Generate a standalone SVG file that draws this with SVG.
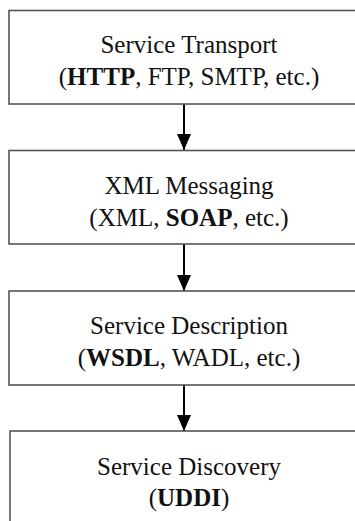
<svg xmlns="http://www.w3.org/2000/svg" width="355" height="521" viewBox="0 0 355 521">
<style>
.box{fill:#fff;stroke:#555;stroke-width:1.6}
.t{font-family:"Liberation Serif","Times New Roman",serif;font-size:25px;fill:#111;text-anchor:middle}
.b{font-weight:bold}
.c{stroke:#000;stroke-width:2;fill:none}
</style>
<defs>
<marker id="ah" markerUnits="userSpaceOnUse" markerWidth="16" markerHeight="16" viewBox="0 0 16 16" refX="16" refY="8" orient="auto">
<path d="M0,1 L16,8 L0,15 Z" fill="#000"/>
</marker>
</defs>
<rect width="355" height="521" fill="#fff"/>
<g id="connectors">
<line class="c" x1="184" y1="104" x2="184" y2="150" marker-end="url(#ah)"/>
<line class="c" x1="184" y1="244" x2="184" y2="291" marker-end="url(#ah)"/>
<line class="c" x1="184" y1="385" x2="184" y2="431" marker-end="url(#ah)"/>
</g>
<g id="transport">
<rect class="box" x="9" y="10.5" width="360" height="93.5"/>
<text class="t" x="189" y="53">Service Transport</text>
<text class="t" x="189" y="85">(<tspan class="b">HTTP</tspan>, FTP, SMTP, etc.)</text>
</g>
<g id="messaging">
<rect class="box" x="9" y="150.5" width="360" height="93.5"/>
<text class="t" x="189" y="194">XML Messaging</text>
<text class="t" x="189" y="226">(XML, <tspan class="b">SOAP</tspan>, etc.)</text>
</g>
<g id="description">
<rect class="box" x="9" y="291" width="360" height="94"/>
<text class="t" x="189" y="334">Service Description</text>
<text class="t" x="189" y="366">(<tspan class="b">WSDL</tspan>, WADL, etc.)</text>
</g>
<g id="discovery">
<rect class="box" x="10" y="431" width="360" height="110"/>
<text class="t" x="189" y="475">Service Discovery</text>
<text class="t" x="189" y="506">(<tspan class="b">UDDI</tspan>)</text>
</g>
</svg>
